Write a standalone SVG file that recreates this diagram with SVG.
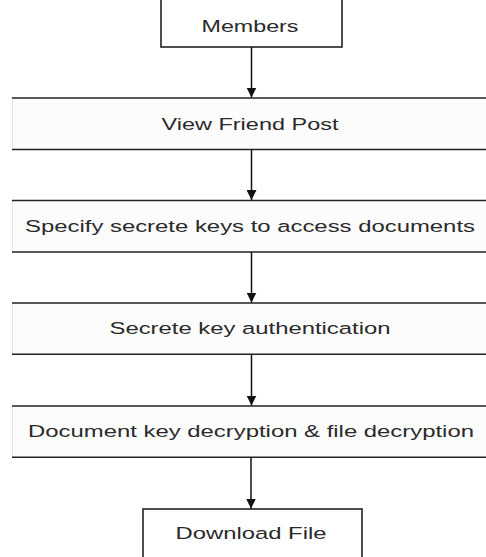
<svg xmlns="http://www.w3.org/2000/svg" width="486" height="557" viewBox="0 0 486 557">
<style>
.bg{fill:#ffffff}
.band{fill:#fcfcfc;stroke:none}
.edge{stroke:#e4e4e4;stroke-width:1}
.hl{stroke:#222;stroke-width:1.6}
.box{fill:#ffffff;stroke:#222;stroke-width:1.6}
.t{font-family:"Liberation Sans",Arial,sans-serif;font-size:16.3px;fill:#2a2a2a;text-anchor:middle}
.conn{stroke:#111;stroke-width:1.5;fill:none;marker-end:url(#ah)}
</style>
<defs>
<marker id="ah" markerUnits="userSpaceOnUse" markerWidth="10" markerHeight="10" refX="10" refY="5" orient="auto">
<path d="M0,0 L10,5 L0,10 Z" fill="#111"/>
</marker>
</defs>
<rect class="bg" x="0" y="0" width="486" height="557"/>
<g id="members">
<rect class="box" x="161" y="-5" width="181" height="52"/>
<text class="t" x="250" y="32" textLength="97" lengthAdjust="spacingAndGlyphs">Members</text>
</g>
<g id="view-friend-post">
<rect class="band" x="12" y="98" width="480" height="51.5"/>
<line class="edge" x1="12.5" y1="98" x2="12.5" y2="149.5"/>
<line class="hl" x1="12" y1="98" x2="486" y2="98"/>
<line class="hl" x1="12" y1="149.5" x2="486" y2="149.5"/>
<text class="t" x="250" y="130" textLength="177" lengthAdjust="spacingAndGlyphs">View Friend Post</text>
</g>
<g id="specify-keys">
<rect class="band" x="12" y="200.5" width="480" height="51.5"/>
<line class="edge" x1="12.5" y1="200.5" x2="12.5" y2="252"/>
<line class="hl" x1="12" y1="200.5" x2="486" y2="200.5"/>
<line class="hl" x1="12" y1="252" x2="486" y2="252"/>
<text class="t" x="250" y="232" textLength="450" lengthAdjust="spacingAndGlyphs">Specify secrete keys to access documents</text>
</g>
<g id="key-auth">
<rect class="band" x="12" y="303" width="480" height="51.2"/>
<line class="edge" x1="12.5" y1="303" x2="12.5" y2="354.2"/>
<line class="hl" x1="12" y1="303" x2="486" y2="303"/>
<line class="hl" x1="12" y1="354.2" x2="486" y2="354.2"/>
<text class="t" x="250" y="334" textLength="281" lengthAdjust="spacingAndGlyphs">Secrete key authentication</text>
</g>
<g id="decryption">
<rect class="band" x="12" y="406" width="480" height="51.3"/>
<line class="edge" x1="12.5" y1="406" x2="12.5" y2="457.3"/>
<line class="hl" x1="12" y1="406" x2="486" y2="406"/>
<line class="hl" x1="12" y1="457.3" x2="486" y2="457.3"/>
<text class="t" x="251" y="437" textLength="446" lengthAdjust="spacingAndGlyphs">Document key decryption &amp; file decryption</text>
</g>
<g id="download-file">
<rect class="box" x="143" y="509" width="219" height="60"/>
<text class="t" x="251" y="539" textLength="151" lengthAdjust="spacingAndGlyphs">Download File</text>
</g>
<g id="connectors">
<line class="conn" x1="251.5" y1="47" x2="251.5" y2="97.5"/>
<line class="conn" x1="251.5" y1="149.5" x2="251.5" y2="200"/>
<line class="conn" x1="251.5" y1="252" x2="251.5" y2="302.5"/>
<line class="conn" x1="251.5" y1="354.2" x2="251.5" y2="405.5"/>
<line class="conn" x1="251" y1="457.3" x2="251" y2="508.5"/>
</g>
</svg>
